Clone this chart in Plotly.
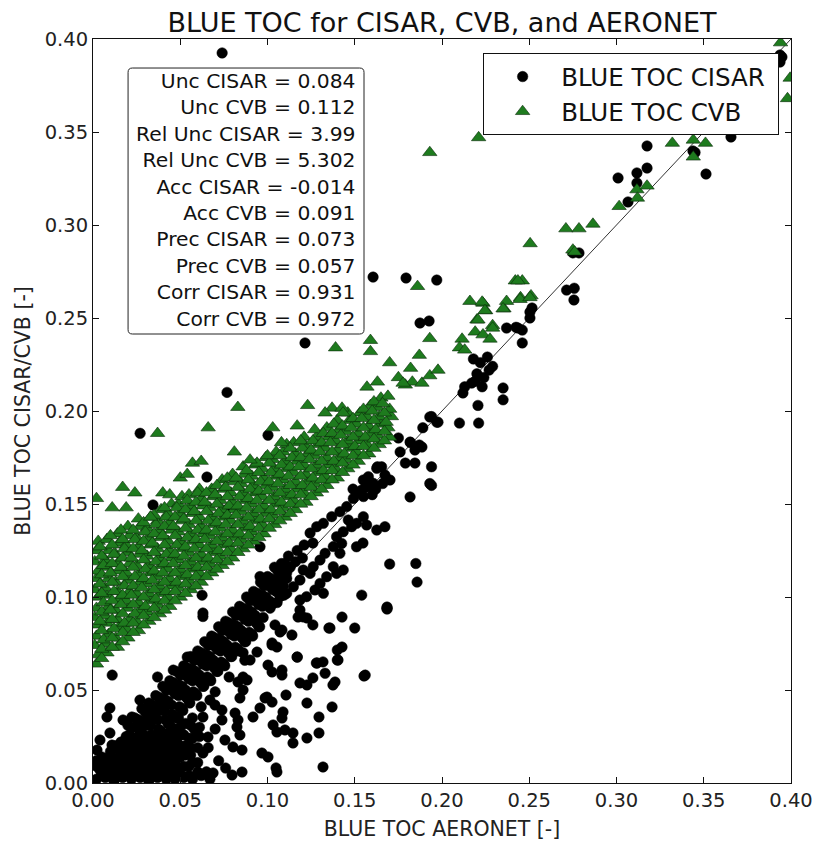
import plotly.graph_objects as go

# ---------------- data ----------------
# CISAR: dense lower-left block
cisar_block = [
    (0.002,0.002),(0.007,0.003),(0.012,0.001),(0.017,0.003),(0.022,0.002),(0.027,0.003),(0.032,0.001),
    (0.037,0.003),(0.042,0.002),(0.047,0.002),(0.052,0.003),(0.057,0.002),(0.062,0.004),(0.067,0.002),
    (0.004,0.007),(0.009,0.008),(0.014,0.006),(0.019,0.008),(0.024,0.007),(0.029,0.006),(0.034,0.008),
    (0.039,0.007),(0.044,0.008),(0.049,0.006),(0.055,0.009),(0.060,0.011),
    (0.002,0.012),(0.007,0.011),(0.012,0.013),(0.017,0.012),(0.022,0.011),(0.027,0.013),(0.032,0.012),
    (0.037,0.011),(0.042,0.013),(0.047,0.012),(0.053,0.015),
    (0.010,0.017),(0.015,0.018),(0.020,0.016),(0.025,0.018),(0.030,0.017),(0.035,0.016),(0.040,0.018),
    (0.045,0.017),(0.050,0.020),(0.056,0.019),
    (0.016,0.022),(0.021,0.023),(0.026,0.022),(0.031,0.024),(0.036,0.021),(0.041,0.023),(0.046,0.022),
    (0.052,0.026),(0.057,0.024),(0.048,0.029),(0.053,0.032),(0.058,0.029),(0.044,0.027),
    (0.005,0.004),(0.015,0.010),(0.025,0.004),(0.035,0.013),(0.045,0.004),(0.050,0.014),(0.040,0.009),
    (0.010,0.005),(0.015,0.004),(0.020,0.005),(0.030,0.005),(0.035,0.004),(0.040,0.005),(0.050,0.005),
    (0.055,0.004),(0.060,0.006),(0.065,0.006),
    (0.002,0.009),(0.007,0.010),(0.012,0.009),(0.017,0.010),(0.022,0.009),(0.027,0.010),(0.032,0.009),
    (0.037,0.010),(0.042,0.009),(0.047,0.010),(0.052,0.009),(0.057,0.011),
    (0.005,0.014),(0.010,0.015),(0.015,0.014),(0.020,0.015),(0.025,0.014),(0.030,0.015),(0.035,0.014),
    (0.040,0.015),(0.045,0.014),(0.050,0.016),(0.056,0.015),
    (0.013,0.020),(0.018,0.019),(0.023,0.020),(0.028,0.019),(0.033,0.020),(0.038,0.019),(0.043,0.020),
    (0.048,0.019),(0.053,0.020),(0.060,0.019),
    (0.019,0.025),(0.024,0.024),(0.029,0.025),(0.034,0.024),(0.039,0.025),(0.044,0.024),(0.049,0.025),
    (0.055,0.024),(0.061,0.025),
    (0.050,0.030),(0.056,0.031),(0.061,0.030),(0.045,0.030),(0.049,0.035),(0.057,0.035),
]
# CISAR: dense band along the 1:1 line
cisar_band = [
    (0.020,0.031),(0.021,0.026),(0.019,0.020),
    (0.024,0.035),(0.025,0.030),(0.023,0.024),
    (0.028,0.040),(0.029,0.033),(0.027,0.028),(0.0295,0.021),
    (0.032,0.043),(0.033,0.038),(0.031,0.031),(0.0335,0.026),(0.0315,0.019),
    (0.036,0.047),(0.037,0.041),(0.035,0.036),(0.0375,0.029),(0.0355,0.024),
    (0.040,0.052),(0.041,0.045),(0.039,0.039),(0.0415,0.034),(0.0395,0.027),
    (0.044,0.055),(0.045,0.050),(0.043,0.043),(0.0455,0.037),(0.0435,0.032),
    (0.048,0.060),(0.049,0.053),(0.047,0.048),(0.0495,0.041),(0.0475,0.035),
    (0.052,0.063),(0.053,0.058),(0.051,0.051),(0.0535,0.046),(0.0515,0.039),
    (0.056,0.068),(0.057,0.061),(0.055,0.056),(0.0575,0.049),(0.0555,0.043),
    (0.060,0.071),(0.061,0.066),(0.059,0.059),(0.0615,0.054),(0.0595,0.047),(0.062,0.041),
    (0.064,0.076),(0.065,0.069),(0.063,0.064),(0.0655,0.057),(0.0635,0.052),
    (0.068,0.079),(0.069,0.074),(0.067,0.067),(0.0695,0.062),(0.0675,0.055),(0.070,0.049),
    (0.072,0.084),(0.073,0.077),(0.071,0.072),(0.0735,0.065),(0.0715,0.060),
    (0.076,0.087),(0.077,0.082),(0.075,0.075),(0.0775,0.070),(0.0755,0.063),(0.078,0.057),
    (0.080,0.092),(0.081,0.085),(0.079,0.080),(0.0815,0.073),(0.0795,0.068),
    (0.084,0.095),(0.085,0.090),(0.083,0.083),(0.0855,0.078),(0.0835,0.071),(0.087,0.066),
    (0.088,0.100),(0.089,0.093),(0.087,0.088),(0.0895,0.081),(0.0875,0.076),
    (0.092,0.103),(0.093,0.098),(0.091,0.091),(0.0935,0.086),(0.0915,0.079),
    (0.096,0.108),(0.097,0.101),(0.095,0.096),(0.0975,0.089),(0.0955,0.084),
    (0.100,0.111),(0.101,0.106),(0.099,0.099),(0.1015,0.094),
    (0.104,0.116),(0.105,0.109),(0.103,0.104),(0.1055,0.097),
    (0.108,0.118),(0.109,0.113),(0.107,0.106),(0.1095,0.101),
    (0.112,0.122),(0.113,0.116),(0.111,0.110),
    (0.1244,0.1344),(0.1282,0.1378),(0.132,0.1396),(0.1368,0.1432),(0.1415,0.1459),(0.1454,0.1486),
    (0.1492,0.153),(0.1511,0.1557),(0.1549,0.1629),(0.1578,0.1647),(0.1626,0.1692),(0.1654,0.170),
    (0.1673,0.1656),(0.1702,0.1629),(0.1606,0.1611),(0.1568,0.1592),(0.154,0.1575),(0.1463,0.1414),
    (0.1511,0.1396),(0.1549,0.1432),(0.1568,0.1387),(0.1626,0.136),(0.1673,0.1378),(0.1396,0.1324),
    (0.1425,0.1288),(0.1377,0.1271),(0.1415,0.1235),(0.1482,0.1378),(0.1434,0.1351),(0.133,0.1235),
    (0.1301,0.1199),(0.1262,0.1163),(0.1205,0.1145),(0.1244,0.1127),(0.1186,0.1091),(0.1148,0.1055),
    (0.111,0.102),(0.1072,0.1002),(0.1033,0.0966),(0.1377,0.1163),(0.1396,0.1127),(0.1434,0.1145),
    (0.1339,0.1109),(0.1301,0.1073),(0.1272,0.1038),(0.132,0.102),(0.1224,0.1002),(0.1186,0.0984),
    (0.117,0.125),(0.121,0.128),(0.116,0.119),(0.120,0.121),(0.126,0.129),
    (0.149,0.158),(0.153,0.156),(0.158,0.161),(0.162,0.158),(0.166,0.161),(0.155,0.154),(0.160,0.155),
]
# CISAR: in-between points of the dense band
cisar_band_fill = [
    (0.022,0.030),(0.023,0.024),(0.021,0.018),
    (0.026,0.034),(0.027,0.028),(0.025,0.022),
    (0.030,0.038),(0.031,0.033),(0.029,0.026),(0.031,0.020),
    (0.034,0.042),(0.035,0.036),(0.033,0.031),(0.035,0.024),
    (0.038,0.046),(0.039,0.041),(0.037,0.034),(0.039,0.028),
    (0.042,0.050),(0.043,0.044),(0.041,0.039),(0.043,0.032),
    (0.046,0.054),(0.047,0.049),(0.045,0.042),(0.047,0.036),
    (0.050,0.058),(0.051,0.052),(0.049,0.047),(0.051,0.040),
    (0.054,0.062),(0.055,0.057),(0.053,0.050),(0.055,0.044),
    (0.058,0.066),(0.059,0.060),(0.057,0.055),(0.059,0.048),
    (0.062,0.070),(0.063,0.065),(0.061,0.058),(0.063,0.052),
    (0.066,0.074),(0.067,0.068),(0.065,0.063),(0.067,0.056),
    (0.070,0.078),(0.071,0.073),(0.069,0.066),(0.071,0.060),
    (0.074,0.082),(0.075,0.076),(0.073,0.071),(0.075,0.064),
    (0.078,0.086),(0.079,0.081),(0.077,0.074),(0.079,0.068),
    (0.082,0.090),(0.083,0.084),(0.081,0.079),(0.083,0.072),
    (0.086,0.094),(0.087,0.089),(0.085,0.082),(0.087,0.076),
    (0.090,0.098),(0.091,0.092),(0.089,0.087),(0.091,0.080),
    (0.094,0.102),(0.095,0.097),(0.093,0.090),(0.095,0.084),
    (0.098,0.106),(0.099,0.100),(0.097,0.095),
    (0.102,0.110),(0.103,0.105),(0.101,0.098),
    (0.106,0.114),(0.107,0.108),(0.105,0.103),
    (0.110,0.118),(0.111,0.113),(0.109,0.106),
]
# CISAR: scattered points
cisar_scatter = [
    (0.074,0.3925),(0.1605,0.272),(0.1794,0.2715),(0.197,0.2704),(0.1874,0.2473),(0.1926,0.2484),
    (0.1215,0.2366),(0.0768,0.210),(0.027,0.188),(0.1003,0.187),(0.0653,0.1645),(0.0344,0.1495),
    (0.0762,0.1468),(0.0957,0.127),(0.0957,0.111),(0.1427,0.1737),
    (0.275,0.285),(0.2785,0.285),(0.2714,0.265),(0.2758,0.266),(0.2756,0.2597),(0.237,0.2446),
    (0.2435,0.2446),(0.246,0.2435),(0.246,0.2366),(0.2504,0.2532),(0.2504,0.250),(0.2516,0.2554),
    (0.2424,0.245),(0.3009,0.3253),(0.3066,0.3124),(0.3117,0.328),(0.3117,0.3226),(0.3175,0.3425),
    (0.3175,0.3306),(0.3438,0.3398),(0.3513,0.3274),(0.3656,0.3473),(0.3937,0.3914),(0.3937,0.3876),
    (0.3948,0.3903),(0.345,0.339),
    (0.218,0.228),(0.222,0.226),(0.226,0.229),(0.229,0.224),(0.220,0.220),(0.224,0.218),(0.227,0.222),
    (0.219,0.216),(0.223,0.213),(0.213,0.213),(0.212,0.2097),(0.217,0.215),(0.2206,0.203),(0.210,0.1935),
    (0.221,0.1935),(0.235,0.2124),(0.235,0.206),(0.194,0.197),(0.197,0.194),(0.189,0.191),(0.175,0.1855),
    (0.182,0.183),(0.1845,0.179),(0.176,0.178),(0.1885,0.1806),(0.179,0.172),(0.1845,0.172),(0.194,0.170),
    (0.194,0.160),(0.163,0.170),(0.157,0.163),(0.1817,0.1538),(0.193,0.161),(0.187,0.1817),(0.1817,0.1833),
    (0.193,0.1968),(0.1977,0.194),
    (0.154,0.101),(0.1685,0.0935),(0.170,0.1177),(0.185,0.118),(0.1857,0.108),(0.1547,0.129),(0.151,0.127),
    (0.1685,0.0946),(0.1685,0.094),(0.150,0.0833),(0.1427,0.0892),(0.1352,0.0833),(0.126,0.085),
    (0.1175,0.0892),(0.1186,0.093),(0.1226,0.0887),(0.114,0.0796),(0.1043,0.085),(0.1072,0.0812),
    (0.1054,0.0731),(0.1026,0.0753),(0.094,0.0704),(0.090,0.0661),(0.086,0.070),(0.1003,0.0634),
    (0.1026,0.0597),(0.1083,0.0607),(0.1083,0.058),(0.117,0.0677),(0.126,0.0565),(0.1186,0.0538),
    (0.1226,0.0527),(0.1284,0.0645),(0.1318,0.0651),(0.140,0.0661),(0.140,0.0715),(0.1427,0.0731),
    (0.1375,0.0527),(0.137,0.0409),(0.1387,0.0543),(0.1553,0.0575),(0.1295,0.0355),(0.1295,0.0269),
    (0.1226,0.043),(0.1226,0.0242),(0.1146,0.0269),(0.1146,0.0215),(0.1106,0.0473),(0.1083,0.0349),
    (0.110,0.0285),(0.1032,0.0312),(0.1054,0.0274),(0.0986,0.0457),(0.1026,0.0435),(0.0957,0.0403),
    (0.0997,0.0462),(0.0917,0.0355),(0.1089,0.0382),(0.0968,0.0161),(0.1003,0.014),(0.1049,0.0081),
    (0.1054,0.0059),(0.1318,0.0086),(0.086,0.057),(0.0883,0.0554),(0.0831,0.0543),(0.086,0.050),
    (0.0842,0.0457),(0.0814,0.0376),(0.0831,0.0339),(0.0825,0.0301),(0.0842,0.0258),(0.0802,0.0194),
    (0.0854,0.0177),(0.0756,0.0231),(0.0739,0.0339),(0.0739,0.0392),(0.0699,0.0419),(0.067,0.0446),
    (0.063,0.0355),(0.0659,0.0247),(0.063,0.0161),(0.0688,0.0054),(0.0797,0.0043),(0.0854,0.0059),
    (0.063,0.0914),(0.063,0.0895),(0.0625,0.101),(0.1203,0.0893),(0.1358,0.0833),(0.1083,0.0822),
    (0.1026,0.0742),(0.117,0.0677),(0.128,0.0645),(0.1404,0.0661),(0.156,0.058),(0.133,0.059),
    (0.011,0.058),(0.037,0.057),(0.046,0.0607),(0.054,0.0677),(0.0269,0.0446),(0.0097,0.0403),
    (0.008,0.0355),(0.0172,0.0339),(0.0223,0.0355),(0.0097,0.0269),(0.004,0.0231),(0.0109,0.0204),
    (0.0023,0.0177),(0.072,0.012),(0.076,0.008),(0.070,0.029),(0.066,0.019),
]

# CVB: dense band
cvb_band = [
    (0.002,0.064),(0.003,0.069),(0.001,0.074),(0.002,0.079),(0.003,0.085),(0.001,0.089),(0.002,0.094),
    (0.003,0.100),(0.001,0.104),(0.002,0.110),(0.003,0.114),(0.001,0.119),(0.002,0.125),(0.003,0.130),
    (0.008,0.070),(0.007,0.075),(0.009,0.080),(0.008,0.086),(0.007,0.090),(0.009,0.095),(0.008,0.101),
    (0.007,0.105),(0.009,0.110),(0.008,0.116),(0.007,0.120),(0.009,0.125),(0.008,0.131),
    (0.014,0.073),(0.013,0.078),(0.015,0.084),(0.014,0.088),(0.013,0.093),(0.015,0.099),(0.014,0.103),
    (0.013,0.108),(0.015,0.114),(0.014,0.118),(0.013,0.123),(0.015,0.129),(0.014,0.134),
    (0.020,0.078),(0.019,0.083),(0.021,0.088),(0.020,0.094),(0.019,0.098),(0.021,0.103),(0.020,0.109),
    (0.019,0.113),(0.021,0.118),(0.020,0.124),(0.019,0.128),(0.021,0.133),(0.020,0.138),
    (0.026,0.082),(0.025,0.087),(0.027,0.093),(0.026,0.097),(0.025,0.102),(0.027,0.108),(0.026,0.112),
    (0.025,0.117),(0.027,0.123),(0.026,0.127),(0.025,0.132),(0.027,0.138),(0.026,0.142),
    (0.032,0.087),(0.031,0.092),(0.033,0.098),(0.032,0.102),(0.031,0.107),(0.033,0.113),(0.032,0.117),
    (0.031,0.122),(0.033,0.128),(0.032,0.132),(0.031,0.137),(0.033,0.143),
    (0.038,0.091),(0.037,0.096),(0.039,0.102),(0.038,0.106),(0.037,0.111),(0.039,0.117),(0.038,0.121),
    (0.037,0.126),(0.039,0.132),(0.038,0.136),(0.037,0.141),(0.039,0.147),
    (0.044,0.095),(0.043,0.100),(0.045,0.106),(0.044,0.110),(0.043,0.115),(0.045,0.121),(0.044,0.125),
    (0.043,0.130),(0.045,0.136),(0.044,0.140),(0.043,0.145),(0.045,0.150),
    (0.050,0.100),(0.049,0.105),(0.051,0.111),(0.050,0.115),(0.049,0.120),(0.051,0.126),(0.050,0.130),
    (0.049,0.135),(0.051,0.141),(0.050,0.145),(0.049,0.150),(0.051,0.154),
    (0.056,0.104),(0.055,0.109),(0.057,0.115),(0.056,0.119),(0.055,0.124),(0.057,0.130),(0.056,0.134),
    (0.055,0.139),(0.057,0.145),(0.056,0.149),(0.055,0.155),
    (0.062,0.108),(0.061,0.113),(0.063,0.119),(0.062,0.123),(0.061,0.128),(0.063,0.134),(0.062,0.138),
    (0.061,0.143),(0.063,0.149),(0.062,0.153),(0.061,0.158),
    (0.068,0.113),(0.067,0.118),(0.069,0.124),(0.068,0.128),(0.067,0.133),(0.069,0.139),(0.068,0.143),
    (0.067,0.148),(0.069,0.154),(0.068,0.158),
    (0.074,0.117),(0.073,0.122),(0.075,0.128),(0.074,0.132),(0.073,0.137),(0.075,0.143),(0.074,0.147),
    (0.073,0.152),(0.075,0.158),(0.074,0.163),
    (0.080,0.121),(0.079,0.126),(0.081,0.132),(0.080,0.136),(0.079,0.141),(0.081,0.147),(0.080,0.151),
    (0.079,0.156),(0.081,0.162),(0.080,0.166),
    (0.086,0.126),(0.085,0.131),(0.087,0.137),(0.086,0.141),(0.085,0.146),(0.087,0.152),(0.086,0.156),
    (0.085,0.161),(0.087,0.166),(0.086,0.170),
    (0.092,0.130),(0.091,0.135),(0.093,0.141),(0.092,0.145),(0.091,0.150),(0.093,0.156),(0.092,0.160),
    (0.091,0.165),(0.093,0.171),
    (0.098,0.134),(0.097,0.139),(0.099,0.145),(0.098,0.149),(0.097,0.154),(0.099,0.160),(0.098,0.164),
    (0.097,0.169),(0.099,0.175),
    (0.104,0.139),(0.103,0.144),(0.105,0.150),(0.104,0.154),(0.103,0.159),(0.105,0.165),(0.104,0.169),
    (0.103,0.174),(0.105,0.178),
    (0.110,0.143),(0.109,0.148),(0.111,0.154),(0.110,0.158),(0.109,0.163),(0.111,0.169),(0.110,0.173),
    (0.109,0.178),(0.111,0.182),
    (0.116,0.147),(0.115,0.152),(0.117,0.158),(0.116,0.162),(0.115,0.167),(0.117,0.173),(0.116,0.177),
    (0.115,0.183),
    (0.122,0.151),(0.121,0.156),(0.123,0.162),(0.122,0.166),(0.121,0.171),(0.123,0.177),(0.122,0.181),
    (0.121,0.186),
    (0.128,0.156),(0.127,0.161),(0.129,0.167),(0.128,0.171),(0.127,0.176),(0.129,0.182),(0.128,0.186),
    (0.127,0.190),
    (0.134,0.160),(0.133,0.165),(0.135,0.171),(0.134,0.175),(0.133,0.180),(0.135,0.186),(0.134,0.191),
    (0.140,0.164),(0.139,0.169),(0.141,0.175),(0.140,0.179),(0.139,0.184),(0.141,0.190),(0.140,0.195),
    (0.146,0.169),(0.145,0.174),(0.147,0.180),(0.146,0.184),(0.145,0.189),(0.147,0.195),(0.146,0.199),
    (0.152,0.173),(0.151,0.178),(0.153,0.184),(0.152,0.188),(0.151,0.193),(0.153,0.199),
    (0.158,0.177),(0.157,0.182),(0.159,0.188),(0.158,0.192),(0.157,0.197),(0.159,0.203),
    (0.164,0.182),(0.163,0.187),(0.165,0.193),(0.164,0.197),(0.163,0.202),(0.165,0.207),
    (0.170,0.186),(0.169,0.191),(0.171,0.197),(0.170,0.201),(0.169,0.208),
]
# CVB: in-between points of the dense band
cvb_band_fill = [
    (0.005,0.067),(0.005,0.072),(0.006,0.077),(0.005,0.082),(0.004,0.087),(0.005,0.092),(0.006,0.097),
    (0.005,0.102),(0.004,0.107),(0.005,0.112),(0.006,0.117),(0.005,0.122),(0.004,0.127),
    (0.011,0.073),(0.011,0.078),(0.012,0.083),(0.011,0.088),(0.010,0.093),(0.011,0.098),(0.012,0.103),
    (0.011,0.108),(0.010,0.113),(0.011,0.118),(0.012,0.123),(0.011,0.128),(0.010,0.133),
    (0.017,0.076),(0.017,0.081),(0.018,0.086),(0.017,0.091),(0.016,0.096),(0.017,0.101),(0.018,0.106),
    (0.017,0.111),(0.016,0.116),(0.017,0.121),(0.018,0.126),(0.017,0.131),(0.016,0.136),
    (0.023,0.081),(0.023,0.086),(0.024,0.091),(0.023,0.096),(0.022,0.101),(0.023,0.106),(0.024,0.111),
    (0.023,0.116),(0.022,0.121),(0.023,0.126),(0.024,0.131),(0.023,0.136),
    (0.029,0.085),(0.029,0.090),(0.030,0.095),(0.029,0.100),(0.028,0.105),(0.029,0.110),(0.030,0.115),
    (0.029,0.120),(0.028,0.125),(0.029,0.130),(0.030,0.135),(0.029,0.140),
    (0.035,0.089),(0.035,0.094),(0.036,0.099),(0.035,0.104),(0.034,0.109),(0.035,0.114),(0.036,0.119),
    (0.035,0.124),(0.034,0.129),(0.035,0.134),(0.036,0.139),(0.035,0.144),
    (0.041,0.093),(0.041,0.098),(0.042,0.103),(0.041,0.108),(0.040,0.113),(0.041,0.118),(0.042,0.123),
    (0.041,0.128),(0.040,0.133),(0.041,0.138),(0.042,0.143),(0.041,0.148),
    (0.047,0.098),(0.047,0.103),(0.048,0.108),(0.047,0.113),(0.046,0.118),(0.047,0.123),(0.048,0.128),
    (0.047,0.133),(0.046,0.138),(0.047,0.143),(0.048,0.148),
    (0.053,0.102),(0.053,0.107),(0.054,0.112),(0.053,0.117),(0.052,0.122),(0.053,0.127),(0.054,0.132),
    (0.053,0.137),(0.052,0.142),(0.053,0.147),(0.054,0.152),
    (0.059,0.106),(0.059,0.111),(0.060,0.116),(0.059,0.121),(0.058,0.126),(0.059,0.131),(0.060,0.136),
    (0.059,0.141),(0.058,0.146),(0.059,0.151),(0.060,0.156),
    (0.065,0.111),(0.065,0.116),(0.066,0.121),(0.065,0.126),(0.064,0.131),(0.065,0.136),(0.066,0.141),
    (0.065,0.146),(0.064,0.151),(0.065,0.156),
    (0.071,0.115),(0.071,0.120),(0.072,0.125),(0.071,0.130),(0.070,0.135),(0.071,0.140),(0.072,0.145),
    (0.071,0.150),(0.070,0.155),(0.071,0.160),
    (0.077,0.119),(0.077,0.124),(0.078,0.129),(0.077,0.134),(0.076,0.139),(0.077,0.144),(0.078,0.149),
    (0.077,0.154),(0.076,0.159),(0.077,0.164),
    (0.083,0.124),(0.083,0.129),(0.084,0.134),(0.083,0.139),(0.082,0.144),(0.083,0.149),(0.084,0.154),
    (0.083,0.159),(0.082,0.164),
    (0.089,0.128),(0.089,0.133),(0.090,0.138),(0.089,0.143),(0.088,0.148),(0.089,0.153),(0.090,0.158),
    (0.089,0.163),(0.088,0.168),
    (0.095,0.132),(0.095,0.137),(0.096,0.142),(0.095,0.147),(0.094,0.152),(0.095,0.157),(0.096,0.162),
    (0.095,0.167),(0.094,0.172),
    (0.101,0.137),(0.101,0.142),(0.102,0.147),(0.101,0.152),(0.100,0.157),(0.101,0.162),(0.102,0.167),
    (0.101,0.172),(0.100,0.176),
    (0.107,0.141),(0.107,0.146),(0.108,0.151),(0.107,0.156),(0.106,0.161),(0.107,0.166),(0.108,0.171),
    (0.107,0.176),
    (0.113,0.145),(0.113,0.150),(0.114,0.155),(0.113,0.160),(0.112,0.165),(0.113,0.170),(0.114,0.175),
    (0.113,0.180),
    (0.119,0.150),(0.119,0.155),(0.120,0.160),(0.119,0.165),(0.118,0.170),(0.119,0.175),(0.120,0.180),
    (0.119,0.184),
    (0.125,0.154),(0.125,0.159),(0.126,0.164),(0.125,0.169),(0.124,0.174),(0.125,0.179),(0.126,0.184),
    (0.131,0.158),(0.131,0.163),(0.132,0.168),(0.131,0.173),(0.130,0.178),(0.131,0.183),(0.132,0.188),
    (0.137,0.163),(0.137,0.168),(0.138,0.173),(0.137,0.178),(0.136,0.183),(0.137,0.188),(0.138,0.193),
    (0.143,0.167),(0.143,0.172),(0.144,0.177),(0.143,0.182),(0.142,0.187),(0.143,0.192),
    (0.149,0.171),(0.149,0.176),(0.150,0.181),(0.149,0.186),(0.148,0.191),(0.149,0.196),
    (0.155,0.176),(0.155,0.181),(0.156,0.186),(0.155,0.191),(0.154,0.196),(0.155,0.201),
    (0.161,0.180),(0.161,0.185),(0.162,0.190),(0.161,0.195),(0.160,0.200),(0.161,0.205),
    (0.167,0.184),(0.167,0.189),(0.168,0.194),(0.167,0.199),(0.166,0.204),
]
# CVB: scattered points
cvb_scatter = [
    (0.037,0.188),(0.066,0.191),(0.083,0.202),(0.123,0.203),(0.103,0.191),(0.117,0.192),(0.002,0.153),
    (0.017,0.159),(0.024,0.156),(0.011,0.148),(0.019,0.148),(0.081,0.178),(0.057,0.172),(0.062,0.173),
    (0.050,0.164),(0.054,0.166),(0.040,0.156),(0.044,0.155),(0.033,0.143),
    (0.193,0.339),(0.221,0.347),(0.186,0.267),(0.216,0.259),(0.2235,0.258),(0.225,0.254),(0.220,0.249),
    (0.229,0.246),(0.2355,0.255),(0.237,0.259),(0.242,0.270),(0.246,0.270),(0.245,0.261),(0.251,0.262),
    (0.2505,0.290),(0.271,0.298),(0.2785,0.298),(0.2865,0.3005),(0.275,0.2866),(0.3015,0.310),
    (0.3117,0.319),(0.3175,0.321),(0.312,0.3145),(0.332,0.344),(0.344,0.3366),(0.351,0.344),
    (0.344,0.3457),(0.394,0.398),(0.3995,0.379),(0.398,0.368),
    (0.159,0.238),(0.159,0.232),(0.139,0.234),(0.170,0.226),(0.187,0.230),(0.182,0.223),(0.175,0.218),
    (0.179,0.214),(0.183,0.2156),(0.1885,0.215),(0.193,0.219),(0.1977,0.222),(0.193,0.239),
    (0.223,0.2586),(0.2246,0.254),(0.235,0.255),(0.2435,0.270),(0.2447,0.260),(0.2504,0.261),
    (0.2206,0.249),(0.219,0.2425),(0.2235,0.241),(0.229,0.2446),(0.2275,0.2387),(0.2115,0.2387),
    (0.210,0.234),(0.213,0.2328),(0.276,0.2855),
    (0.137,0.2016),(0.133,0.199),(0.1427,0.2016),(0.1433,0.199),(0.157,0.2129),(0.163,0.2156),
    (0.1777,0.215),(0.108,0.183),(0.090,0.1737),
]

stat_labels = ["Unc CISAR", "Unc CVB", "Rel Unc CISAR", "Rel Unc CVB", "Acc CISAR",
               "Acc CVB", "Prec CISAR", "Prec CVB", "Corr CISAR", "Corr CVB"]
stat_values = ["0.084", "0.112", "3.99", "5.302", "-0.014", "0.091", "0.073", "0.057", "0.931", "0.972"]

ref_line = [0.0, 0.4]
tick_vals = [0.00, 0.05, 0.10, 0.15, 0.20, 0.25, 0.30, 0.35, 0.40]
tick_text = ["0.00", "0.05", "0.10", "0.15", "0.20", "0.25", "0.30", "0.35", "0.40"]

# ---------------- figure ----------------
FONT = "DejaVu Sans"
cisar = cisar_block + cisar_band + cisar_band_fill + cisar_scatter
cvb = cvb_band + cvb_band_fill + cvb_scatter

fig = go.Figure()
fig.add_trace(go.Scatter(x=ref_line, y=ref_line, mode="lines",
                         line=dict(color="#333333", width=1), showlegend=False, hoverinfo="skip"))
fig.add_trace(go.Scatter(x=[p[0] for p in cisar], y=[p[1] for p in cisar], mode="markers",
                         name="BLUE TOC CISAR\u00a0",
                         marker=dict(symbol="circle", size=10.5, color="black",
                                     line=dict(color="black", width=0.5))))
fig.add_trace(go.Scatter(x=[p[0] for p in cvb], y=[p[1] for p in cvb], mode="markers",
                         name="BLUE TOC CVB",
                         marker=dict(symbol="triangle-up", size=12.5, color="#1e7b1e",
                                     line=dict(color="#0a2a0a", width=0.6))))

# rounded text box
x0, x1, y0, y1 = 0.0201, 0.1553, 0.2414, 0.3844
rx, ry = 0.0025, 0.0023
path = (f"M {x0+rx},{y1} L {x1-rx},{y1} Q {x1},{y1} {x1},{y1-ry} L {x1},{y0+ry} "
        f"Q {x1},{y0} {x1-rx},{y0} L {x0+rx},{y0} Q {x0},{y0} {x0},{y0+ry} "
        f"L {x0},{y1-ry} Q {x0},{y1} {x0+rx},{y1} Z")
fig.add_shape(type="path", path=path, xref="x", yref="y", fillcolor="white",
              line=dict(color="#222222", width=1), layer="above")
fig.add_annotation(x=0.1513, y=0.3134, xref="x", yref="y", xanchor="right", yanchor="middle",
                   align="right", showarrow=False,
                   text="<br>".join(f"{l} = {v}" for l, v in zip(stat_labels, stat_values)),
                   font=dict(family=FONT, size=20.3, color="#111111"))

axis_common = dict(range=[0, 0.4], tickvals=tick_vals, ticktext=tick_text, showgrid=False,
                   zeroline=False, showline=True, linecolor="#111111", linewidth=1,
                   mirror="ticks", ticks="inside", ticklen=6, tickcolor="#111111",
                   automargin=False,
                   tickfont=dict(family=FONT, size=19.5, color="#222222"))
fig.update_xaxes(**axis_common, title=dict(text="BLUE TOC AERONET [-]",
                 font=dict(family=FONT, size=20.5, color="#222222"), standoff=10))
fig.update_yaxes(**axis_common, title=dict(text="BLUE TOC CISAR/CVB [-]",
                 font=dict(family=FONT, size=20.5, color="#222222"), standoff=8))

fig.update_layout(
    width=817, height=841,
    margin=dict(l=93, r=26, t=39, b=58),
    paper_bgcolor="white", plot_bgcolor="white",
    title=dict(text="BLUE TOC for CISAR, CVB, and AERONET", x=0.5, xref="paper",
               y=1 - 23 / 841, yref="container", yanchor="middle",
               font=dict(family=FONT, size=27, color="#111111")),
    legend=dict(x=0.983, y=0.981, xanchor="right", yanchor="top", bgcolor="white",
                bordercolor="#111111", borderwidth=1, itemwidth=67,
                font=dict(family=FONT, size=24.5, color="#111111")),
    showlegend=True,
)

fig.write_html("out.html")
